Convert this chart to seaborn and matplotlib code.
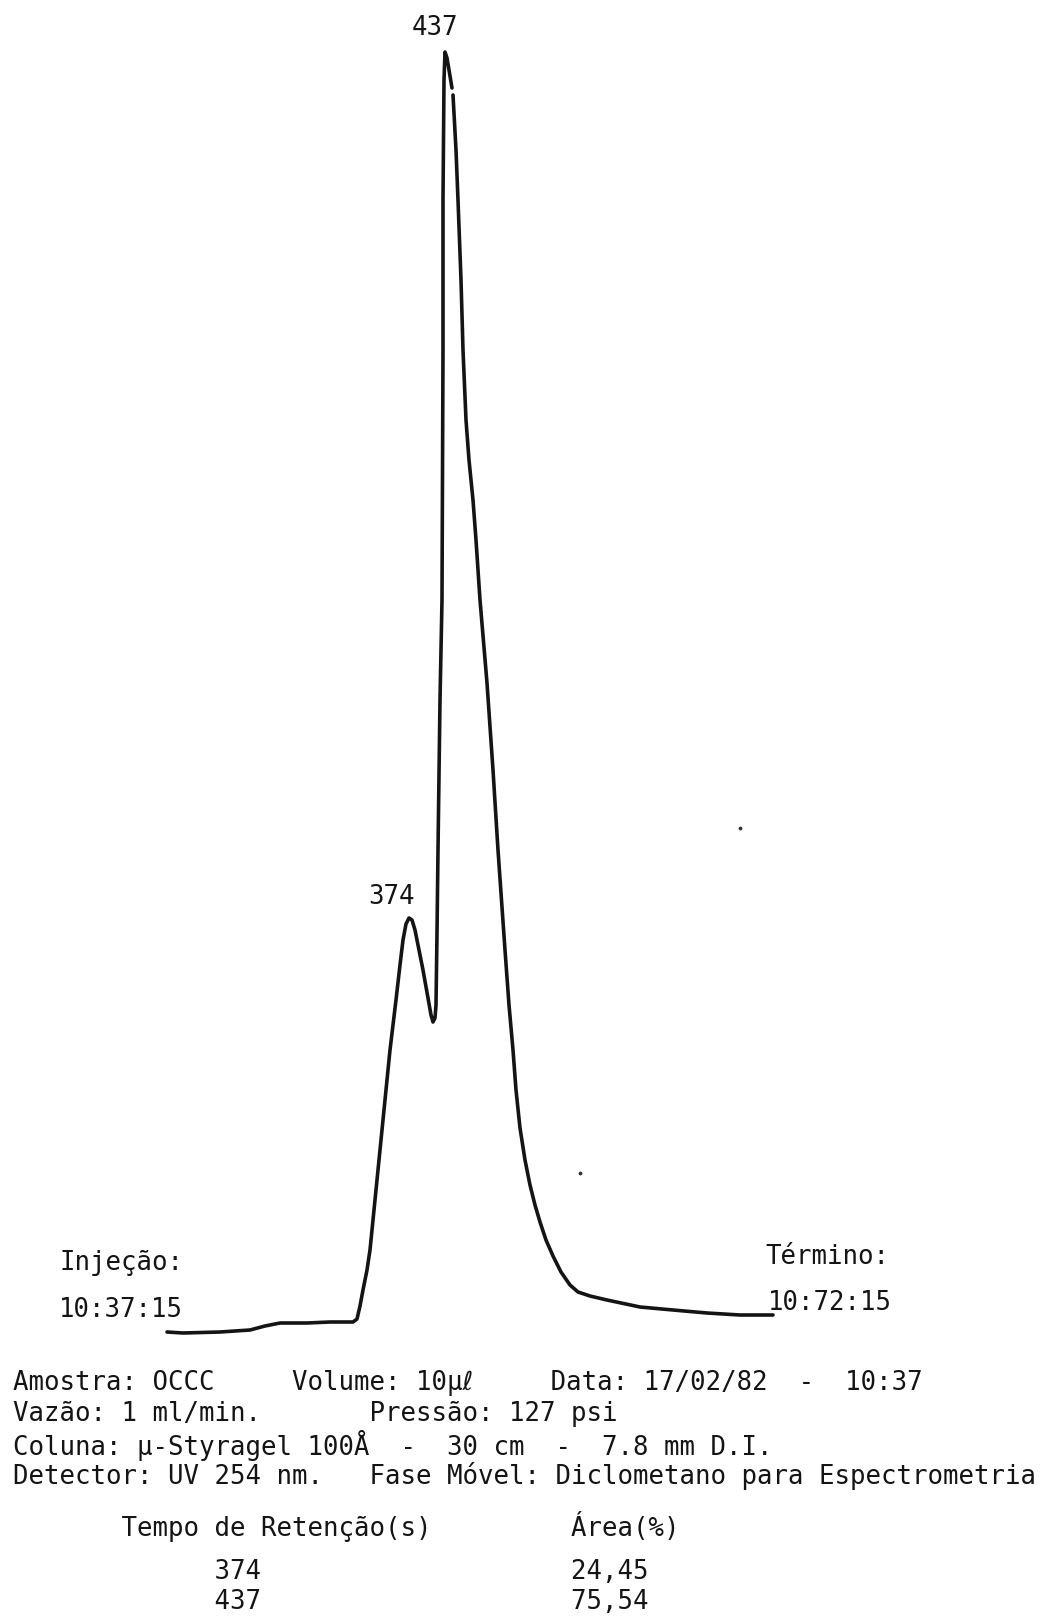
"""
Cromatograma GPC - amostra OCCC (registro de 17/02/82)
"""

import numpy as np
import pandas as pd
import matplotlib
matplotlib.use("Agg")
import matplotlib.pyplot as plt
import seaborn as sns

# traço do registrador: posição no papel (a partir da injeção) e sinal (a partir da linha de base)
pos_traco_1 = [0, 16, 53, 83, 98, 113, 140, 163, 186, 190, 193, 196, 200, 203, 208, 213,
               218, 223, 229, 233, 236, 239, 242, 245, 248, 251, 256, 261, 264, 266, 268,
               269, 270, 271, 273, 275, 276, 276, 277, 278, 280, 282, 285]
sinal_traco_1 = [0, -1, 0, 2, 6, 9, 9, 10, 10, 13, 26, 42, 62, 82, 132, 182,
                 232, 282, 332, 367, 392, 408, 414, 412, 402, 387, 362, 334, 317, 310, 314,
                 327, 399, 482, 632, 732, 982, 1132, 1252, 1280, 1274, 1262, 1244]
pos_traco_2 = [286, 289, 291, 294, 296, 299, 302, 306, 309, 313, 320, 326, 331, 338, 342,
               346, 349, 353, 358, 363, 368, 373, 379, 386, 394, 403, 411, 423, 440, 473,
               506, 540, 573, 606]
sinal_traco_2 = [1237, 1182, 1132, 1052, 982, 912, 872, 832, 792, 732, 649, 562, 482, 382, 327,
                 282, 242, 204, 172, 147, 127, 110, 92, 76, 60, 47, 40, 36, 32, 25,
                 22, 19, 17, 17]

# pequenas manchas do papel
pos_manchas = [413, 573]
sinal_manchas = [159, 504]

tempos_retencao = ["374", "437"]
areas = ["24,45", "75,54"]

W, H = 1053, 1616
FONTE = ["DejaVu Sans Mono", "DejaVu Sans"]
TAM = 18.5
COR = "#141414"

sns.set_theme(style="white")
plt.rcParams["font.family"] = FONTE

df = pd.concat([
    pd.DataFrame({"pos": pos_traco_1, "sinal": sinal_traco_1, "seg": 1}),
    pd.DataFrame({"pos": pos_traco_2, "sinal": sinal_traco_2, "seg": 2}),
], ignore_index=True)

fig = plt.figure(figsize=(W / 100, H / 100), dpi=100)
ax = fig.add_axes([0, 0, 1, 1])
sns.lineplot(data=df, x="pos", y="sinal", units="seg", estimator=None, sort=False,
             color=COR, linewidth=2.6, solid_joinstyle="round", solid_capstyle="round",
             ax=ax)
ax.scatter(pos_manchas, sinal_manchas, s=3, color="#333333")
ax.set_xlim(-167, W - 167)
ax.set_ylim(1332 - H, 1332)
ax.axis("off")


def texto(x, y, s, ha="left"):
    fig.text(x / W, 1 - y / H, s, ha=ha, va="center", fontsize=TAM,
             family=FONTE, color=COR)


# rótulos dos picos
texto(435, 28, tempos_retencao[1], ha="center")
texto(392, 897, tempos_retencao[0], ha="center")

texto(59, 1263, "Injeção:")
texto(59, 1310, "10:37:15")
texto(765, 1257, "Término:")
texto(768, 1303, "10:72:15")

linhas = [
    "Amostra: OCCC     Volume: 10µℓ     Data: 17/02/82  -  10:37",
    "Vazão: 1 ml/min.       Pressão: 127 psi",
    "Coluna: µ-Styragel 100Å  -  30 cm  -  7.8 mm D.I.",
    "Detector: UV 254 nm.   Fase Móvel: Diclometano para Espectrometria",
]
for i, linha in enumerate(linhas):
    texto(13, 1383 + 31 * i, linha)

texto(13, 1527, " " * 7 + "Tempo de Retenção(s)" + " " * 9 + "Área(%)")
for i, (t, a) in enumerate(zip(tempos_retencao, areas)):
    texto(13, 1572 + 30 * i, " " * 13 + t + " " * 20 + a)

fig.savefig("out.png", dpi=100, facecolor="white")
plt.close(fig)
